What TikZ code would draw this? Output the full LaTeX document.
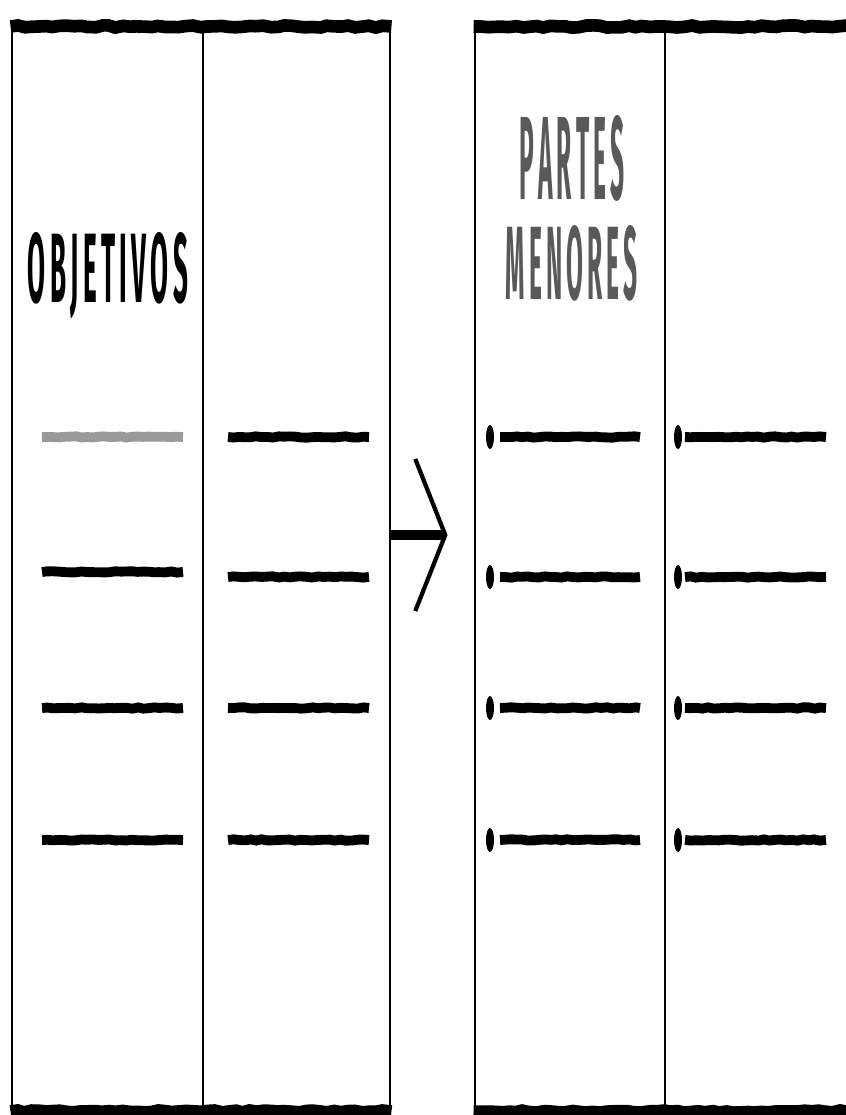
\documentclass[tikz,border=0pt]{standalone}
\usepackage{fontspec}
\setsansfont{Fira Sans}
\usetikzlibrary{positioning,arrows.meta,decorations.pathmorphing}

\begin{document}
\begin{tikzpicture}[x=0.025cm,y=-0.025cm,
  panel/.style={draw, line width=2pt, minimum width=9.45cm, minimum height=27.05cm, inner sep=0pt},
  rough/.style={line width=9pt, decorate, decoration={random steps, segment length=5pt, amplitude=0.8pt}},
  bar/.style={line width=7pt, decorate, decoration={random steps, segment length=4pt, amplitude=0.5pt}},
  title/.style={font=\sffamily\bfseries, inner sep=0pt}]
\clip (0,0) rectangle (846,1115);

% Left panel
\node[panel] (goals) at (201,569) {};
\draw[line width=1.6pt] (203,28) -- (203,1110);
\draw[rough] (goals.north west) -- (goals.north east);
\draw[rough] (goals.south west) -- (goals.south east);
\node[title] (goalstitle) at (108,276) {\resizebox{4cm}{1.75cm}{O\,B\,J\,E\,T\,I\,V\,O\,S}};

\draw[bar, black!40] (42,437) -- (183,437);
\foreach \y in {572,708,840}
  \draw[bar] (42,\y) -- (183,\y);
\foreach \y in {437,577,708,840}
  \draw[bar] (228,\y) -- (369,\y);

% Right panel
\node[panel] (parts) at (664,569) {};
\draw[line width=1.6pt] (665,28) -- (665,1110);
\draw[rough] (parts.north west) -- (parts.north east);
\draw[rough] (parts.south west) -- (parts.south east);
\node[title, text=black!65] (partstitle) at (572,158) {\resizebox{2.625cm}{2.1cm}{P\,A\,R\,T\,E\,S}};
\node[title, text=black!65, below=0.6cm of partstitle] (partstitle2) {\resizebox{3.3cm}{1.85cm}{M\,E\,N\,O\,R\,E\,S}};

\foreach \y in {437,577,708,840} {
  \fill (490,\y) ellipse (4 and 12);
  \draw[bar] (500,\y) -- (640,\y);
  \fill (678,\y) ellipse (4 and 12);
  \draw[bar] (685,\y) -- (826,\y);
}

% Arrow between
\coordinate (arrowlevel) at (0,535);
\draw[line width=6.5pt, -{Straight Barb[length=0.75cm, width=3.8cm, line width=3pt]}, shorten >=0.65cm]
  (goals.east |- arrowlevel) -- (parts.west |- arrowlevel);
\end{tikzpicture}
\end{document}
